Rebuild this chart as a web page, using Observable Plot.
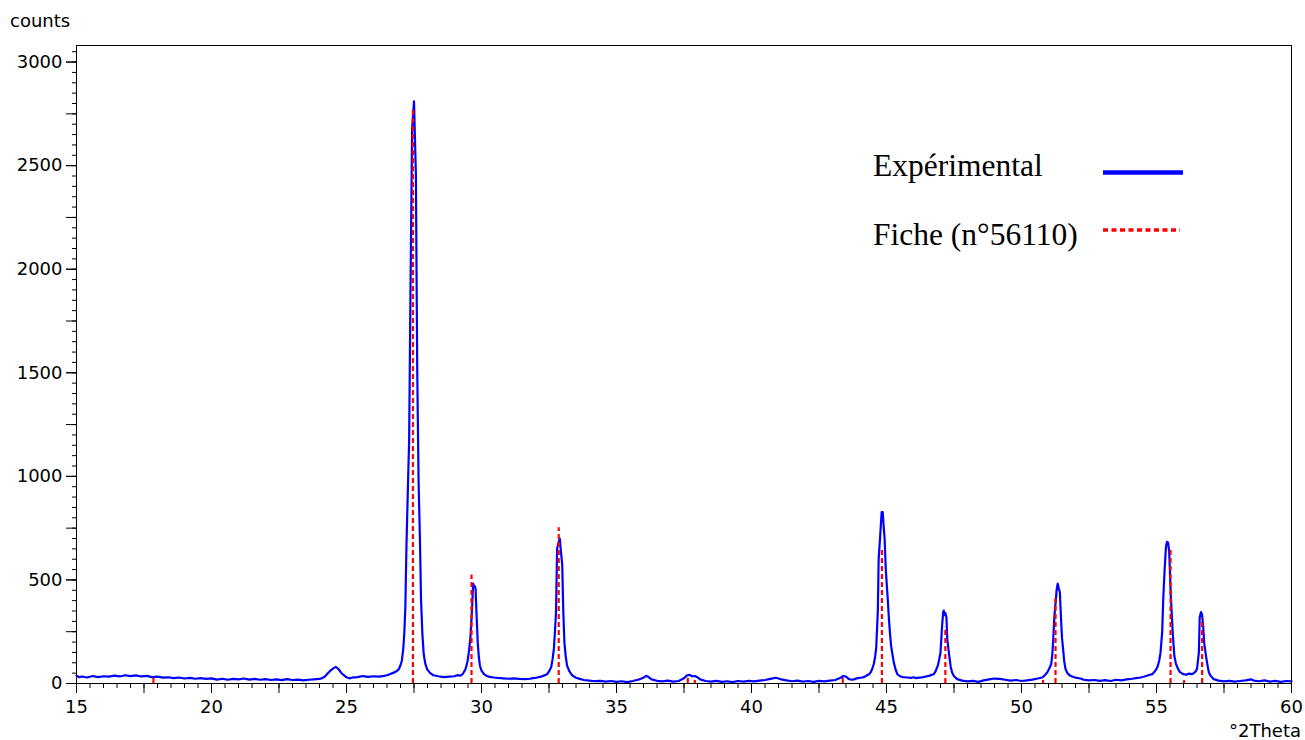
<!DOCTYPE html>
<html>
<head>
<meta charset="utf-8">
<script src="https://cdn.jsdelivr.net/npm/d3@7"></script>
<script src="https://cdn.jsdelivr.net/npm/@observablehq/plot@0.6"></script>
<style>
  body { margin: 0; background: #fff; }
  #chart { position: relative; width: 1305px; height: 740px; }
</style>
</head>
<body>
<div id="chart"></div>
<script>
// Experimental diffractogram: [2theta, counts]
const experimental = [
  [15.0,38],[15.1,30],[15.2,34],[15.4,29],[15.6,36],[15.8,31],[16.0,35],[16.2,33],[16.4,38],[16.6,34],
  [16.8,40],[17.0,36],[17.2,39],[17.4,34],[17.6,37],[17.8,31],[18.0,33],[18.2,28],[18.4,30],[18.6,26],
  [18.8,29],[19.0,24],[19.2,27],[19.4,23],[19.6,26],[19.8,22],[20.0,25],[20.2,19],[20.4,23],[20.6,18],
  [20.8,22],[21.0,20],[21.2,24],[21.4,19],[21.6,22],[21.8,18],[22.0,21],[22.2,17],[22.4,20],[22.6,16],
  [22.8,21],[23.0,17],[23.2,19],[23.4,15],[23.6,18],[23.8,20],[24.0,22],[24.1,26],[24.2,34],[24.3,48],
  [24.4,62],[24.5,72],[24.6,80],[24.7,70],[24.8,52],[24.9,40],[25.0,30],[25.1,25],[25.2,28],[25.4,31],
  [25.6,36],[25.8,32],[26.0,35],[26.2,33],[26.4,37],[26.5,40],[26.6,45],
  [26.7,50],[26.8,55],[26.88,62],[26.94,70],[27.0,88],[27.05,110],[27.1,165],[27.14,240],[27.18,370],
  [27.22,660],[27.28,975],[27.32,1170],[27.37,1900],[27.43,2680],[27.5,2810],[27.57,2455],[27.62,1510],
  [27.67,975],[27.72,694],[27.76,408],[27.81,240],[27.86,141],[27.92,95],[27.99,68],[28.1,50],[28.22,40],
  [28.4,35],[28.6,31],[28.8,33],[29.0,35],[29.1,40],[29.22,38],
  [29.3,45],[29.41,70],[29.48,105],[29.53,150],[29.59,223],[29.65,360],[29.69,482],[29.72,470],[29.75,470],
  [29.78,458],[29.81,354],[29.86,199],[29.9,130],[29.94,87],[30.0,62],[30.09,45],[30.2,36],[30.3,32],
  [30.46,29],[30.6,27],[30.8,25],[31.0,23],[31.2,25],[31.4,22],[31.6,21],[31.8,23],[31.9,26],[32.0,27],
  [32.1,30],[32.2,33],[32.3,38],[32.43,45],[32.5,58],[32.58,78],[32.63,115],[32.68,167],[32.72,250],
  [32.76,345],[32.8,652],[32.86,684],[32.9,699],[32.94,640],[32.99,573],[33.03,345],[33.07,199],[33.12,130],
  [33.17,86],[33.25,60],[33.36,39],[33.5,28],[33.67,21],[33.8,17],[34.0,14],[34.2,11],[34.4,13],[34.6,9],
  [34.8,12],[35.0,8],[35.2,11],[35.4,7],[35.6,12],[35.8,18],[36.0,28],[36.1,37],[36.2,30],[36.3,20],
  [36.5,13],[36.7,10],[36.9,14],[37.1,9],[37.3,12],[37.5,25],[37.6,38],[37.7,42],[37.8,35],[37.9,36],
  [38.0,30],[38.1,20],[38.3,12],[38.5,9],[38.7,13],[38.9,8],[39.1,11],[39.3,7],[39.5,12],[39.7,9],
  [39.9,13],[40.1,10],[40.3,14],[40.5,17],[40.7,22],[40.9,28],[41.0,24],[41.1,20],[41.3,15],[41.5,11],
  [41.7,14],[41.9,9],[42.1,12],[42.3,8],[42.5,13],[42.7,10],[42.9,14],[43.1,17],[43.3,28],[43.4,36],
  [43.5,33],[43.6,22],[43.7,18],[43.8,20],[43.9,25],[44.0,27],[44.1,29],[44.2,33],[44.28,40],[44.35,45],
  [44.41,53],[44.47,70],[44.53,94],[44.58,130],[44.62,175],[44.68,354],[44.71,603],[44.76,700],[44.82,827],
  [44.86,827],[44.9,750],[44.93,700],[44.97,560],[45.0,498],[45.05,400],[45.09,312],[45.13,240],[45.17,183],
  [45.22,140],[45.27,102],[45.33,70],[45.4,45],[45.5,35],[45.6,31],[45.77,29],[45.9,27],[46.0,30],[46.1,26],
  [46.2,28],[46.3,29],[46.4,32],[46.5,35],[46.6,38],[46.7,43],[46.75,45],[46.82,60],[46.9,86],[46.95,115],
  [47.0,150],[47.06,280],[47.1,345],[47.12,352],[47.15,330],[47.18,340],[47.22,320],[47.25,215],[47.3,160],
  [47.34,118],[47.38,80],[47.43,53],[47.5,35],[47.62,21],[47.8,14],[48.0,10],[48.2,13],[48.4,8],[48.6,15],
  [48.8,20],[49.0,24],[49.2,22],[49.4,18],[49.6,14],[49.8,17],[50.0,12],[50.2,15],[50.4,19],[50.6,24],
  [50.77,29],[50.85,38],[50.95,53],[51.02,70],[51.1,94],[51.14,140],[51.17,199],[51.22,328],[51.27,400],
  [51.3,451],[51.34,482],[51.38,460],[51.42,442],[51.47,296],[51.5,220],[51.54,167],[51.58,110],[51.63,70],
  [51.7,50],[51.81,37],[51.95,30],[52.05,27],[52.19,24],[52.3,18],[52.5,15],[52.7,17],[52.9,13],[53.1,16],
  [53.3,12],[53.5,18],[53.7,15],[53.9,20],[54.1,23],[54.3,27],[54.41,29],[54.55,34],[54.7,40],[54.84,45],
  [54.95,60],[55.03,78],[55.1,110],[55.15,150],[55.21,248],[55.25,409],[55.3,547],[55.35,660],[55.39,684],
  [55.43,680],[55.47,636],[55.53,425],[55.6,248],[55.66,134],[55.72,95],[55.8,70],[55.87,55],[55.93,50],
  [56.0,45],[56.1,42],[56.2,48],[56.3,45],[56.38,50],[56.45,58],[56.5,70],[56.57,150],[56.6,320],[56.65,345],
  [56.69,330],[56.73,272],[56.77,191],[56.85,118],[56.9,80],[56.94,53],[57.0,38],[57.12,21],[57.3,14],
  [57.5,10],[57.7,13],[57.9,9],[58.1,12],[58.3,15],[58.5,20],[58.6,14],[58.8,11],[59.0,15],[59.2,9],
  [59.4,13],[59.6,8],[59.8,12],[60.0,10]
];

// Reference card (Fiche n°56110)
const ficheTheta  = [17.85, 27.46, 29.63, 32.86, 37.64, 37.9, 43.38, 44.83, 47.18, 50.8, 51.26, 55.52, 56.02, 56.69];
const ficheCounts = [35,    2770,  524,   752,   30,    15,   25,    645,   272,   15,   409,   646,   14,    312];

const xMajorTicks = [15, 20, 25, 30, 35, 40, 45, 50, 55, 60];
const xMidTicks = d3.range(15, 60.01, 2.5);
const xMinorTicks = d3.range(15, 60.01, 0.5);
const yMajorTicks = [0, 500, 1000, 1500, 2000, 2500, 3000];
const yMidTicks = d3.range(0, 3001, 250);
const yMinorTicks = d3.range(0, 3051, 50);

const fiche = ficheTheta.map((t, i) => ({theta: t, counts: ficheCounts[i]}));

const font = "DejaVu Sans, sans-serif";

const chart = Plot.plot({
  width: 1305,
  height: 740,
  marginLeft: 76,
  marginRight: 14,
  marginTop: 45,
  marginBottom: 57,
  style: {fontFamily: font, fontSize: "18px", color: "#000", background: "#fff"},
  x: {domain: [15, 60]},
  y: {domain: [0, 3080]},
  marks: [
    Plot.line(experimental, {x: d => d[0], y: d => d[1], stroke: "#0000ff", strokeWidth: 2.2}),
    Plot.ruleX(fiche, {x: "theta", y1: 0, y2: "counts", stroke: "#ff0000", strokeWidth: 2.2, strokeDasharray: "5,3"}),
    Plot.frame({stroke: "#000", strokeWidth: 1}),
    Plot.axisY({ticks: yMinorTicks, tickSize: 4, tickFormat: () => "", label: null}),
    Plot.axisY({ticks: yMidTicks, tickSize: 10, tickFormat: () => "", label: null}),
    Plot.axisY({ticks: yMajorTicks, tickSize: 10, tickPadding: 4, fontSize: 18, tickFormat: d => String(d), label: null}),
    Plot.axisX({ticks: xMinorTicks, tickSize: 5, tickFormat: () => "", label: null}),
    Plot.axisX({ticks: xMidTicks, tickSize: 10, tickFormat: () => "", label: null}),
    Plot.axisX({ticks: xMajorTicks, tickSize: 10, tickPadding: 7, fontSize: 18, tickFormat: d => String(d), label: null})
  ]
});

document.getElementById("chart").appendChild(chart);

const svg = d3.select(chart);
// axis titles
svg.append("text").attr("x", 10).attr("y", 27).attr("text-anchor", "start")
  .attr("font-family", font).attr("font-size", 18).attr("fill", "#000").text("counts");
svg.append("text").attr("x", 1301).attr("y", 737).attr("text-anchor", "end")
  .attr("font-family", font).attr("font-size", 18).attr("fill", "#000").text("°2Theta");

// legend
const lg = svg.append("g").attr("font-family", "Liberation Serif, Times New Roman, serif")
  .attr("font-size", 31.5).attr("fill", "#000").attr("text-anchor", "start");
lg.append("text").attr("x", 873).attr("y", 176).text("Expérimental");
lg.append("text").attr("x", 873).attr("y", 245).text("Fiche (n°56110)");
lg.append("line").attr("x1", 1103).attr("x2", 1183).attr("y1", 172.5).attr("y2", 172.5)
  .attr("stroke", "#0000ff").attr("stroke-width", 4.5);
lg.append("line").attr("x1", 1103).attr("x2", 1180).attr("y1", 230).attr("y2", 230)
  .attr("stroke", "#ff0000").attr("stroke-width", 3.5).attr("stroke-dasharray", "5,3.5");
</script>
</body>
</html>
